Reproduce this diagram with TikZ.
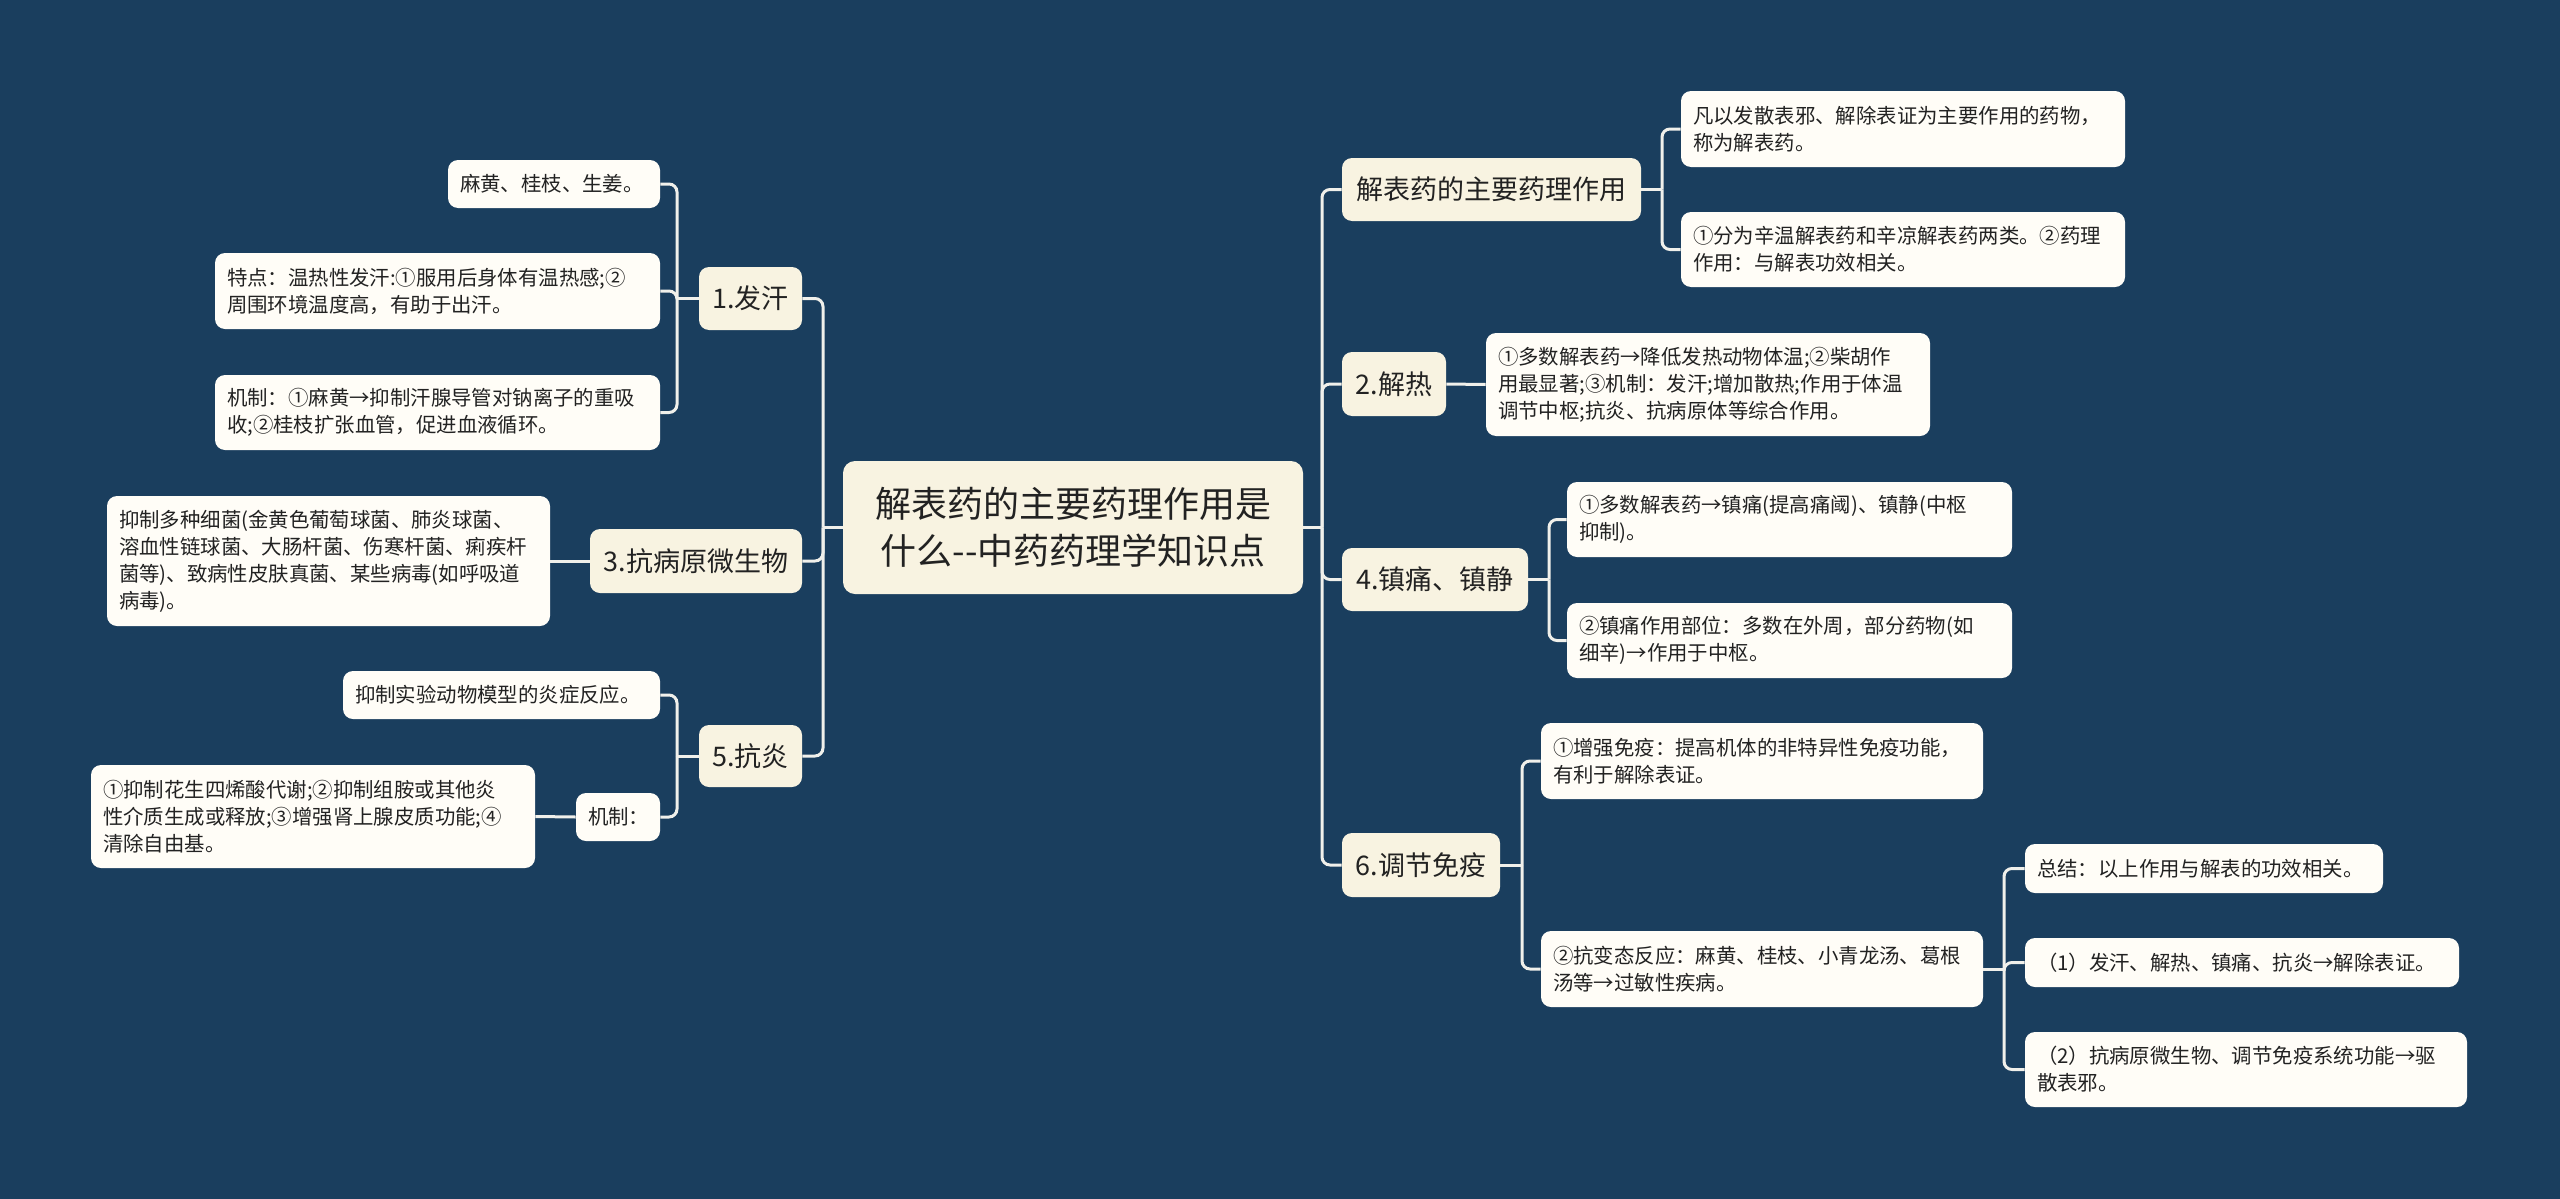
\documentclass[tikz,border=0pt]{standalone}
\usepackage{fontspec}
\setmainfont{Noto Sans CJK SC}[Ligatures=NoCommon]
\definecolor{bgc}{RGB}{26,62,94}
\definecolor{branchc}{RGB}{248,243,225}
\definecolor{leafc}{RGB}{255,253,247}
\definecolor{linec}{RGB}{240,240,235}
\definecolor{txtc}{RGB}{34,34,34}
\begin{document}
\begin{tikzpicture}[x=0.5pt,y=-0.5pt,
  leaf/.style={fill=leafc, rounded corners=5pt, inner xsep=6pt, inner ysep=0pt, align=left, text=txtc, anchor=center, font=\fontsize{10.2}{13.5}\selectfont},
  branch/.style={fill=branchc, rounded corners=5pt, inner sep=0pt, align=center, text=txtc, anchor=center, font=\fontsize{13.5}{17}\selectfont},
  rootbox/.style={fill=branchc, rounded corners=6pt, inner sep=0pt, align=center, text=txtc, anchor=center, font=\fontsize{18}{23.5}\selectfont},
  conn/.style={draw=linec, line width=1.5pt, rounded corners=4pt}]
\useasboundingbox (0,0) rectangle (2560,1199);
\fill[bgc] (0,0) rectangle (2560,1199);

% root
\node[rootbox, minimum width=230pt, minimum height=66.5pt] (root) at (1073,527.5) {解表药的主要药理作用是\\什么-{}-中药药理学知识点};

% left branches
\node[branch, minimum width=51.5pt, minimum height=31.5pt] (n1) at (750.5,298.5) {1.发汗};
\node[branch, minimum width=106pt, minimum height=32pt] (n3) at (696,561) {3.抗病原微生物};
\node[branch, minimum width=51.5pt, minimum height=31pt] (n5) at (750.5,756) {5.抗炎};

\node[leaf, text width=94pt, minimum height=24pt] (n1a) at (554,184) {麻黄、桂枝、生姜。};
\node[leaf, text width=210.5pt, minimum height=38pt] (n1b) at (437.5,291) {特点：温热性发汗:①服用后身体有温热感;②\\周围环境温度高，有助于出汗。};
\node[leaf, text width=210.5pt, minimum height=37.5pt] (n1c) at (437.5,412.5) {机制：①麻黄→抑制汗腺导管对钠离子的重吸\\收;②桂枝扩张血管，促进血液循环。};
\node[leaf, text width=209.5pt, minimum height=65pt] (n3a) at (328.5,561) {抑制多种细菌(金黄色葡萄球菌、肺炎球菌、\\溶血性链球菌、大肠杆菌、伤寒杆菌、痢疾杆\\菌等)、致病性皮肤真菌、某些病毒(如呼吸道\\病毒)。};
\node[leaf, text width=146.5pt, minimum height=24pt] (n5a) at (501.5,695) {抑制实验动物模型的炎症反应。};
\node[leaf, text width=30pt, minimum height=24pt] (n5b) at (618,817) {机制：};
\node[leaf, text width=210pt, minimum height=51.5pt] (n5b1) at (313,816.5) {①抑制花生四烯酸代谢;②抑制组胺或其他炎\\性介质生成或释放;③增强肾上腺皮质功能;④\\清除自由基。};

% right branches
\node[branch, minimum width=149.5pt, minimum height=31.5pt] (m1) at (1491.5,189.5) {解表药的主要药理作用};
\node[branch, minimum width=52pt, minimum height=32pt] (m2) at (1394,384) {2.解热};
\node[branch, minimum width=93pt, minimum height=31.5pt] (m4) at (1435,579.5) {4.镇痛、镇静};
\node[branch, minimum width=79pt, minimum height=32pt] (m6) at (1421,865) {6.调节免疫};

\node[leaf, text width=210pt, minimum height=38pt] (m1a) at (1903,129) {凡以发散表邪、解除表证为主要作用的药物，\\称为解表药。};
\node[leaf, text width=210pt, minimum height=37.5pt] (m1b) at (1903,249.5) {①分为辛温解表药和辛凉解表药两类。②药理\\作用：与解表功效相关。};
\node[leaf, text width=210pt, minimum height=51.5pt] (m2a) at (1708,384.5) {①多数解表药→降低发热动物体温;②柴胡作\\用最显著;③机制：发汗;增加散热;作用于体温\\调节中枢;抗炎、抗病原体等综合作用。};
\node[leaf, text width=210.5pt, minimum height=37.5pt] (m4a) at (1789.5,519.5) {①多数解表药→镇痛(提高痛阈)、镇静(中枢\\抑制)。};
\node[leaf, text width=210.5pt, minimum height=37.5pt] (m4b) at (1789.5,640.5) {②镇痛作用部位：多数在外周，部分药物(如\\细辛)→作用于中枢。};
\node[leaf, text width=209pt, minimum height=38pt] (m6a) at (1762,761) {①增强免疫：提高机体的非特异性免疫功能，\\有利于解除表证。};
\node[leaf, text width=209pt, minimum height=38pt] (m6b) at (1762,969) {②抗变态反应：麻黄、桂枝、小青龙汤、葛根\\汤等→过敏性疾病。};
\node[leaf, text width=167pt, minimum height=24.5pt] (m6b1) at (2204,868.5) {总结：以上作用与解表的功效相关。};
\node[leaf, text width=205pt, minimum height=24.5pt] (m6b2) at (2242,962.5) {（1）发汗、解热、镇痛、抗炎→解除表证。};
\node[leaf, text width=209pt, minimum height=37.5pt] (m6b3) at (2246,1069.5) {（2）抗病原微生物、调节免疫系统功能→驱\\散表邪。};

% junctions
\coordinate (jR) at (1322,527.5);
\coordinate (jL) at (823,527.5);
\coordinate (jn1) at (677,298.5);
\coordinate (jn5) at (677,756);
\coordinate (jm1) at (1662,189.5);
\coordinate (jm4) at (1549,579.5);
\coordinate (jm6) at (1522,865);
\coordinate (jm6b) at (2004,969);

% connectors
\draw[conn] (root.east) -- (jR);
\draw[conn] (root.west) -- (jL);
\foreach \c in {m1,m2,m4,m6} \draw[conn] (\c.west) -| (jR);
\foreach \c in {n1,n3,n5} \draw[conn] (\c.east) -| (jL);

\draw[conn] (n1.west) -- (jn1);
\foreach \c in {n1a,n1b,n1c} \draw[conn] (\c.east) -| (jn1);
\draw[conn] (n3.west) -- (n3a.east);
\draw[conn] (n5.west) -- (jn5);
\foreach \c in {n5a,n5b} \draw[conn] (\c.east) -| (jn5);
\draw[conn] (n5b.west) -- (n5b1.east);

\draw[conn] (m1.east) -- (jm1);
\foreach \c in {m1a,m1b} \draw[conn] (\c.west) -| (jm1);
\draw[conn] (m2.east) -- (m2a.west);
\draw[conn] (m4.east) -- (jm4);
\foreach \c in {m4a,m4b} \draw[conn] (\c.west) -| (jm4);
\draw[conn] (m6.east) -- (jm6);
\foreach \c in {m6a,m6b} \draw[conn] (\c.west) -| (jm6);
\draw[conn] (m6b.east) -- (jm6b);
\foreach \c in {m6b1,m6b2,m6b3} \draw[conn] (\c.west) -| (jm6b);
\end{tikzpicture}
\end{document}
